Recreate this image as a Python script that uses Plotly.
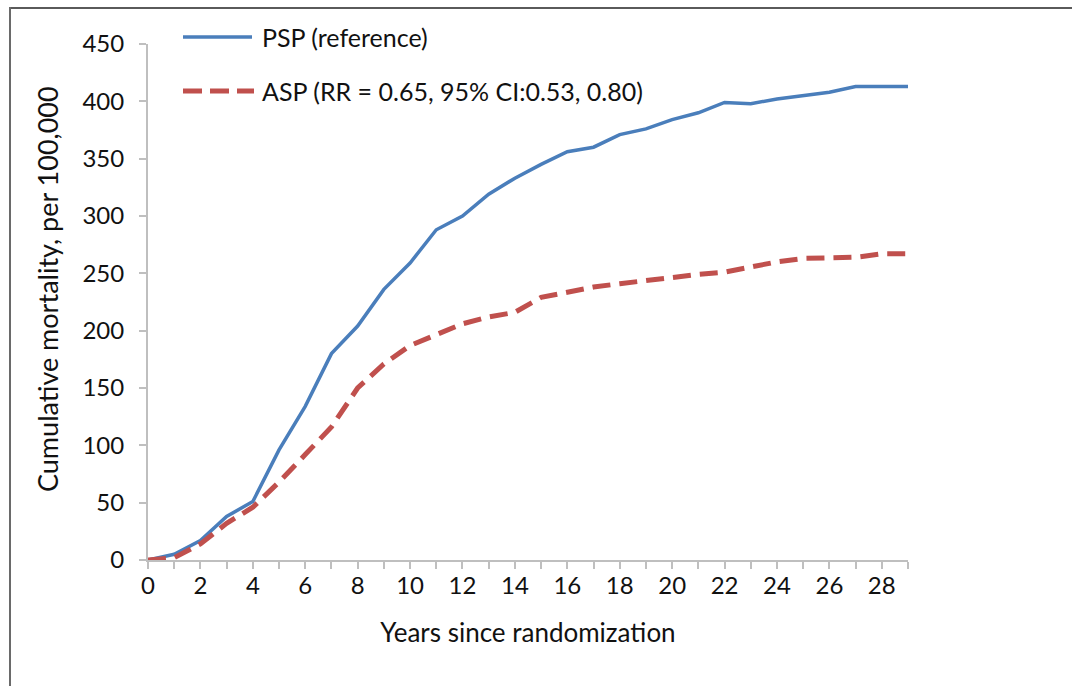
import plotly.graph_objects as go

# Years since randomization
years = list(range(0, 30))

# Cumulative mortality per 100,000
psp_reference = [0, 5, 17, 38, 51, 96, 134, 180, 204, 236, 259, 288, 300, 319, 333,
                 345, 356, 360, 371, 376, 384, 390, 399, 398, 402, 405, 408, 413, 413, 413]
asp = [0, 2, 14, 32, 46, 68, 92, 116, 150, 171, 187, 197, 206, 212, 216,
       229, 234, 238, 241, 244, 247, 249, 251, 256, 260, 263, 264, 264, 267, 267]

psp_name = "PSP (reference)"
asp_name = "ASP (RR = 0.65, 95% CI:0.53, 0.80)"
x_title = "Years since randomization"
y_title = "Cumulative mortality, per 100,000"

BLUE = "#4a7ebb"
RED = "#c0504d"
FONT = "Lato"
TEXT = "#111111"
AXIS = "#bfbfbf"

W_FIG, H_FIG = 1072, 686
L, R, T, B = 148, 164, 44, 126
PW, PH = W_FIG - L - R, H_FIG - T - B


def px_x(p):
    return (p - L) / PW


def px_y(p):
    return 1 - (p - T) / PH


fig = go.Figure()
fig.add_trace(go.Scatter(x=years, y=psp_reference, mode="lines", name=psp_name,
                         line=dict(color=BLUE, width=3.5)))
fig.add_trace(go.Scatter(x=years, y=asp, mode="lines", name=asp_name,
                         line=dict(color=RED, width=5, dash="18px,9px")))

# legend drawn as sample lines plus labels
shapes = [
    dict(type="line", xref="paper", yref="paper", x0=px_x(183), x1=px_x(252),
         y0=px_y(37), y1=px_y(37), line=dict(color=BLUE, width=3.5)),
    dict(type="line", xref="paper", yref="paper", x0=px_x(183), x1=px_x(254),
         y0=px_y(91), y1=px_y(91), line=dict(color=RED, width=5, dash="19px,8px")),
    # outer frame (top and left edges)
    dict(type="line", xref="paper", yref="paper", x0=px_x(9), x1=px_x(1072),
         y0=px_y(8), y1=px_y(8), line=dict(color="#5a5a5a", width=2)),
    dict(type="line", xref="paper", yref="paper", x0=px_x(10), x1=px_x(10),
         y0=px_y(7), y1=px_y(686), line=dict(color="#6a6a6a", width=2)),
]
annotations = [
    dict(text=psp_name, xref="paper", yref="paper", x=px_x(260), y=px_y(37),
         xanchor="left", yanchor="middle", showarrow=False,
         font=dict(family=FONT, size=25, color=TEXT)),
    dict(text=asp_name, xref="paper", yref="paper", x=px_x(260), y=px_y(91),
         xanchor="left", yanchor="middle", showarrow=False,
         font=dict(family=FONT, size=25, color=TEXT)),
    # vertical axis title
    dict(text=y_title, xref="paper", yref="paper", x=px_x(47), y=px_y(289),
         xanchor="center", yanchor="middle", textangle=-90, showarrow=False,
         font=dict(family=FONT, size=27, color=TEXT)),
]

fig.update_layout(
    width=W_FIG, height=H_FIG,
    margin=dict(l=L, r=R, t=T, b=B),
    paper_bgcolor="white", plot_bgcolor="white",
    showlegend=False,
    font=dict(family=FONT, size=24, color=TEXT),
    shapes=shapes, annotations=annotations,
)
fig.update_xaxes(
    range=[0, 29], dtick=2, tick0=0,
    showgrid=False, zeroline=False,
    showline=True, linecolor=AXIS, linewidth=2,
    ticks="outside", ticklen=7, tickcolor=AXIS, tickwidth=1.5,
    minor=dict(dtick=1, ticks="outside", ticklen=7, tickcolor=AXIS, tickwidth=1.5),
    tickfont=dict(family=FONT, size=24, color=TEXT),
    ticklabelstandoff=-4,
    title=dict(text=x_title, font=dict(family=FONT, size=26, color=TEXT), standoff=26),
)
fig.update_yaxes(
    range=[0, 450], dtick=50,
    showgrid=False, zeroline=False,
    showline=True, linecolor=AXIS, linewidth=2,
    ticks="outside", ticklen=7, tickcolor=AXIS, tickwidth=1.5,
    tickfont=dict(family=FONT, size=24, color=TEXT),
    ticklabelstandoff=10,
)

fig.write_html("out.html")
